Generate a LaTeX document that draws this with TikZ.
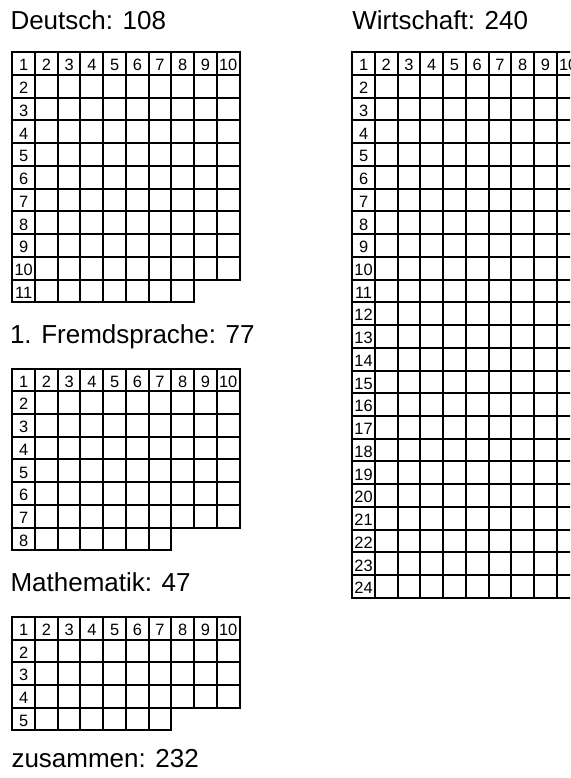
\documentclass[tikz,border=0pt]{standalone}
\usepackage{fontspec}
\setmainfont{Liberation Sans}
\usetikzlibrary{positioning}

% number shown in a cell: column number in the first row, row number in the first column
\newcommand{\cellno}[2]{\ifnum#1=1 #2\else\ifnum#2=1 #1\fi\fi}
\newcommand{\cellw}{22.73}

\begin{document}
\begin{tikzpicture}[
  x=1pt, y=-1pt,
  every node/.style={inner sep=0pt, outer sep=0pt},
  title/.style={anchor=base west, font=\fontsize{26}{30}\selectfont},
  gridline/.style={line width=2pt, line cap=rect},
  cell/.style={minimum size=\cellw pt, text height=14.6pt, text depth=0pt,
               font=\fontsize{16.4}{16.4}\selectfont}
]
\clip (0,0) rectangle (570,778);

% Deutsch
\node[title] (deutsch) at (10.5,29.3) {Deutsch: 108};
\begin{scope}[shift={(12.3,52.3)}]
  \foreach \n [evaluate=\n as \r using {int(floor((\n-1)/10)+1)},
               evaluate=\n as \c using {int(mod(\n-1,10)+1)}] in {1,...,108}
    \node[cell] (d-\r-\c) at ({(\c-0.5)*\cellw},{(\r-0.5)*\cellw}) {\cellno{\r}{\c}};
  \foreach \i in {0,...,10} \draw[gridline] (0,\i*\cellw) -- (10*\cellw,\i*\cellw);
  \draw[gridline] (0,11*\cellw) -- (8*\cellw,11*\cellw);
  \foreach \j in {0,...,8} \draw[gridline] (\j*\cellw,0) -- (\j*\cellw,11*\cellw);
  \foreach \j in {9,10} \draw[gridline] (\j*\cellw,0) -- (\j*\cellw,10*\cellw);
\end{scope}

% 1. Fremdsprache
\node[title] (fremd) at (10,343.3) {1. Fremdsprache: 77};
\begin{scope}[shift={(12.3,368.5)}]
  \foreach \n [evaluate=\n as \r using {int(floor((\n-1)/10)+1)},
               evaluate=\n as \c using {int(mod(\n-1,10)+1)}] in {1,...,77}
    \node[cell] (f-\r-\c) at ({(\c-0.5)*\cellw},{(\r-0.5)*\cellw}) {\cellno{\r}{\c}};
  \foreach \i in {0,...,7} \draw[gridline] (0,\i*\cellw) -- (10*\cellw,\i*\cellw);
  \draw[gridline] (0,8*\cellw) -- (7*\cellw,8*\cellw);
  \foreach \j in {0,...,7} \draw[gridline] (\j*\cellw,0) -- (\j*\cellw,8*\cellw);
  \foreach \j in {8,9,10} \draw[gridline] (\j*\cellw,0) -- (\j*\cellw,7*\cellw);
\end{scope}

% Mathematik
\node[title] (mathe) at (10.5,591.7) {Mathematik: 47};
\begin{scope}[shift={(12.3,616.8)}]
  \foreach \n [evaluate=\n as \r using {int(floor((\n-1)/10)+1)},
               evaluate=\n as \c using {int(mod(\n-1,10)+1)}] in {1,...,47}
    \node[cell] (m-\r-\c) at ({(\c-0.5)*\cellw},{(\r-0.5)*\cellw}) {\cellno{\r}{\c}};
  \foreach \i in {0,...,4} \draw[gridline] (0,\i*\cellw) -- (10*\cellw,\i*\cellw);
  \draw[gridline] (0,5*\cellw) -- (7*\cellw,5*\cellw);
  \foreach \j in {0,...,7} \draw[gridline] (\j*\cellw,0) -- (\j*\cellw,5*\cellw);
  \foreach \j in {8,9,10} \draw[gridline] (\j*\cellw,0) -- (\j*\cellw,4*\cellw);
\end{scope}

% Wirtschaft
\node[title] (wirtschaft) at (352.3,29.3) {Wirtschaft: 240};
\begin{scope}[shift={(352.2,52.3)}]
  \foreach \n [evaluate=\n as \r using {int(floor((\n-1)/10)+1)},
               evaluate=\n as \c using {int(mod(\n-1,10)+1)}] in {1,...,240}
    \node[cell] (w-\r-\c) at ({(\c-0.5)*\cellw},{(\r-0.5)*\cellw}) {\cellno{\r}{\c}};
  \foreach \i in {0,...,24} \draw[gridline] (0,\i*\cellw) -- (10*\cellw,\i*\cellw);
  \foreach \j in {0,...,10} \draw[gridline] (\j*\cellw,0) -- (\j*\cellw,24*\cellw);
\end{scope}

\node[title] (zusammen) at (11.5,767.5) {zusammen: 232};
\end{tikzpicture}
\end{document}
